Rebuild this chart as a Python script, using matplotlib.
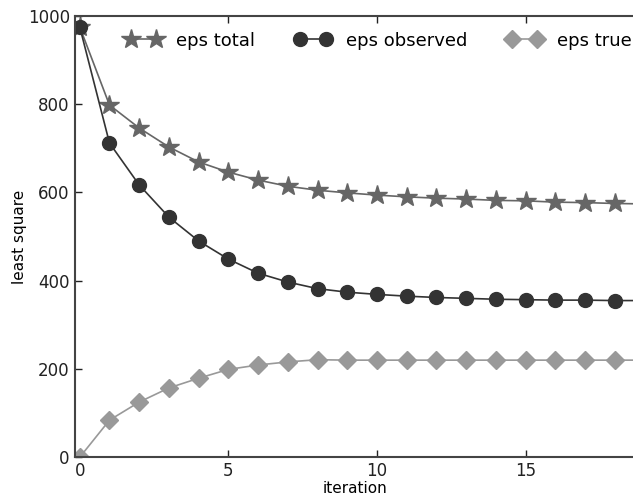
import matplotlib
matplotlib.use("Agg")
import matplotlib.pyplot as plt
import numpy as np

# values
iterations = list(range(0, 20))
eps_total = [975, 798, 746, 703, 669, 646, 628, 614, 605, 599,
             594, 590, 587, 585, 582, 581, 578, 577, 575, 574]
eps_observed = [975, 712, 617, 544, 490, 449, 417, 397, 382, 374,
                369, 365, 362, 360, 358, 357, 356, 356, 355, 355]
eps_true = [0, 84, 125, 157, 179, 199, 209, 216, 221, 220,
            220, 220, 220, 220, 220, 220, 220, 220, 220, 220]

fig = plt.figure(figsize=(6.33, 4.97), dpi=100)
# right edge of the axes runs just past the picture, as in the reference
ax = fig.add_axes([0.118, 0.080, 0.886, 0.888])

ax.plot(iterations, eps_total, color="#666666", marker="*", markersize=15,
        markeredgecolor="#666666", linewidth=1.2, label="eps total")
ax.plot(iterations, eps_observed, color="#333333", marker="o", markersize=10,
        markeredgecolor="#333333", linewidth=1.2, label="eps observed")
ax.plot(iterations, eps_true, color="#999999", marker="D", markersize=9,
        markeredgecolor="#999999", linewidth=1.2, label="eps true")

ax.set_xlim(-0.17, 18.7)
ax.set_ylim(0, 1000)
ax.set_xticks([0, 5, 10, 15])
ax.set_yticks([0, 200, 400, 600, 800, 1000])
ax.tick_params(direction="in", top=True, right=False, labelsize=12, length=5,
               width=1, colors="#222222")
for s in ax.spines.values():
    s.set_linewidth(1.5)
    s.set_color("#444444")

ax.set_xlabel("iteration", fontsize=11, labelpad=1)
ax.set_ylabel("least square", fontsize=11, labelpad=0.5)

ax.legend(loc="upper left", bbox_to_anchor=(0.091, 0.964), ncol=3,
          frameon=False, numpoints=2, fontsize=13, handlelength=2.0,
          columnspacing=2.2, handletextpad=0.8, borderpad=0,
          borderaxespad=0)

fig.savefig("out.png", dpi=100)
